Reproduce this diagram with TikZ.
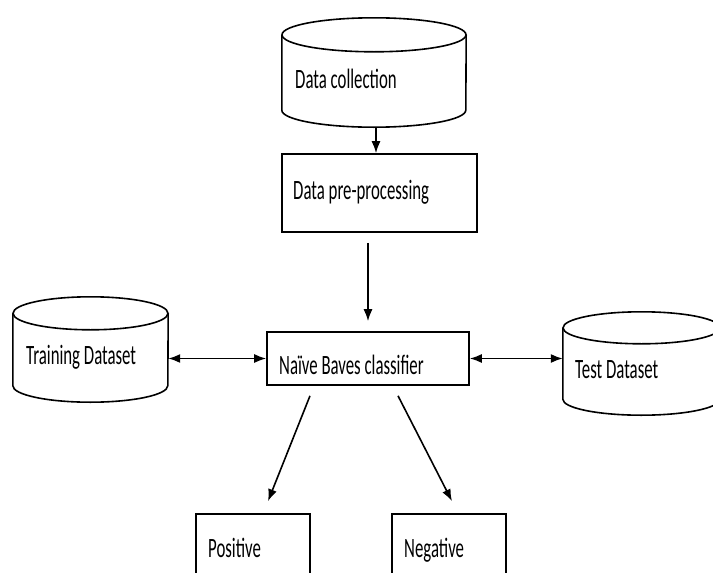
\documentclass[tikz,border=0pt]{standalone}
\usepackage{fontspec}
\newfontfamily\cf[FakeStretch=0.6]{Carlito}
\usetikzlibrary{arrows.meta}
\tikzset{
  lin/.style={line width=1.6pt, black},
  cylbox/.style={inner sep=0pt, draw=none},
  boxnode/.style={lin, draw, inner sep=0pt, fill=white},
  lbl/.style={anchor=base west, inner sep=0pt, font=\cf\fontsize{28}{33}\selectfont},
  arr/.style={lin, -{Latex[length=12pt,width=9pt]}},
  darr/.style={lin, {Latex[length=12pt,width=9pt]}-{Latex[length=12pt,width=9pt]}}
}
\newcommand\dbcyl[6]{%
  \node[cylbox, minimum width=#4pt, minimum height=#5pt] (#1) at (#2,#3) {};
  \draw[lin] ([yshift=-#6pt]#1.north west) -- ([yshift=#6pt]#1.south west)
     arc[start angle=180,end angle=360,x radius=#4pt/2,y radius=#6pt]
     -- ([yshift=-#6pt]#1.north east);
  \draw[lin] ([yshift=-#6pt]#1.north) ellipse [x radius=#4pt/2, y radius=#6pt];
}
\begin{document}
\begin{tikzpicture}[x=1pt,y=1pt]
\useasboundingbox (0,0) rectangle (713,-573);
\clip (0,0) rectangle (713,-573);
\fill[white] (0,0) rectangle (713,-573);
% cylinders
\dbcyl{dc}{374}{-72.5}{184}{109}{17}
\dbcyl{tr}{90.5}{-349.5}{155}{105}{16.5}
\dbcyl{te}{641.5}{-363.5}{157}{103}{16}
% boxes
\node[boxnode, minimum width=195pt, minimum height=78pt] (pre) at (379.5,-193) {};
\node[boxnode, minimum width=202pt, minimum height=53pt] (nb) at (368,-358.5) {};
\node[boxnode, minimum width=114pt, minimum height=76pt] (pos) at (253,-552) {};
\node[boxnode, minimum width=114pt, minimum height=76pt] (neg) at (449,-552) {};
% labels
\node[lbl] (tdc) at (295,-88) {Data collection};
\node[lbl] (tpre) at (293,-199) {Data pre-processing};
\node[lbl] (ttr) at (26,-364) {Training Dataset};
\node[lbl] (tnb) at (279,-374) {Naïve Baves classifier};
\node[lbl] (tte) at (575,-378) {Test Dataset};
\node[lbl] (tpos) at (208,-557) {Positive};
\node[lbl] (tneg) at (404,-557) {Negative};
% connectors
\draw[arr] ([xshift=2pt]dc.south) -- ([xshift=2pt]dc.south |- pre.north);
\draw[arr, shorten <=10pt, shorten >=10pt] (nb.north |- pre.south) -- (nb.north);
\draw[darr] (nb.west) -- (nb.west -| tr.east);
\draw[darr] (nb.east) -- (nb.east -| te.west);
\draw[arr] ([xshift=-58pt,yshift=-10pt]nb.south) -- ([xshift=15pt,yshift=12pt]pos.north);
\draw[arr] ([xshift=30pt,yshift=-10pt]nb.south) -- ([xshift=3pt,yshift=12pt]neg.north);
\end{tikzpicture}
\end{document}
